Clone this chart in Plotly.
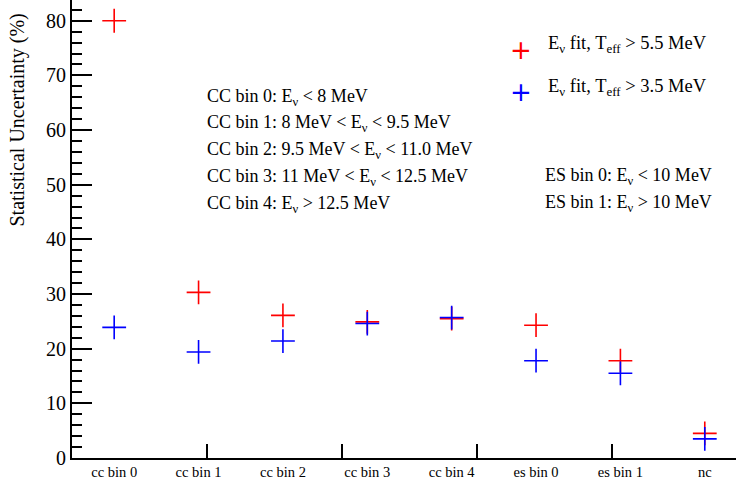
import plotly.graph_objects as go

categories = ["cc bin 0", "cc bin 1", "cc bin 2", "cc bin 3", "cc bin 4", "es bin 0", "es bin 1", "nc"]
unc_55 = [80.0, 30.3, 26.1, 24.9, 25.5, 24.3, 17.8, 4.5]
unc_35 = [23.9, 19.4, 21.4, 24.6, 25.7, 17.8, 15.5, 3.5]
legend_labels = ["E<sub>ν</sub> fit, T<sub>eff</sub> > 5.5 MeV", "E<sub>ν</sub> fit, T<sub>eff</sub> > 3.5 MeV"]
cc_notes = ["CC bin 0: E<sub>ν</sub> < 8 MeV",
            "CC bin 1: 8 MeV < E<sub>ν</sub> < 9.5 MeV",
            "CC bin 2: 9.5 MeV < E<sub>ν</sub> < 11.0 MeV",
            "CC bin 3: 11 MeV < E<sub>ν</sub> < 12.5 MeV",
            "CC bin 4: E<sub>ν</sub> > 12.5 MeV"]
es_notes = ["ES bin 0: E<sub>ν</sub> < 10 MeV", "ES bin 1: E<sub>ν</sub> > 10 MeV"]
y_title = "Statistical Uncertainty (%)"
y_ticks = [0, 10, 20, 30, 40, 50, 60, 70, 80]

FONT = "'Liberation Serif', 'Times New Roman', 'DejaVu Serif', serif"
W, H = 736, 482
L, B = 72, 24
PW, PH = W - L, H - B
XR = [-0.5, 7.37]
YR = [0, 83.8]

xpos = list(range(len(categories)))

fig = go.Figure()
for vals, col in [(unc_55, "#ff0000"), (unc_35, "#0000ff")]:
    fig.add_trace(go.Scatter(
        x=xpos, y=vals, mode="markers", showlegend=False,
        marker=dict(symbol="cross-thin", size=17, color=col,
                    line=dict(color=col, width=1.6)),
        cliponaxis=False))

# invisible traces so the tick-only overlay axes get drawn
fig.add_trace(go.Scatter(x=[XR[0]], y=[0], xaxis="x2", yaxis="y", mode="markers",
                         marker=dict(opacity=0), showlegend=False, hoverinfo="skip"))
fig.add_trace(go.Scatter(x=[XR[0]], y=[0], xaxis="x", yaxis="y2", mode="markers",
                         marker=dict(opacity=0), showlegend=False, hoverinfo="skip"))

fig.update_layout(
    width=W, height=H,
    margin=dict(l=L, r=0, t=0, b=B, autoexpand=False),
    plot_bgcolor="white", paper_bgcolor="white",
    font=dict(family=FONT, color="black"),
    xaxis=dict(range=XR, tickmode="array", tickvals=xpos, ticktext=categories,
               ticks="", showgrid=False, zeroline=False, showline=True,
               linecolor="black", linewidth=2, tickfont=dict(size=14.5, family=FONT)),
    xaxis2=dict(overlaying="x", anchor="y", range=XR, side="bottom", tickmode="array",
                tickvals=[1.1, 2.7, 4.3, 5.9], ticks="inside", ticklen=14,
                tickwidth=1.5, tickcolor="black", showticklabels=False,
                showgrid=False, zeroline=False, showline=False),
    yaxis=dict(range=YR, tickmode="array", tickvals=y_ticks, ticks="",
               showgrid=False, zeroline=False, showline=True, linecolor="black",
               linewidth=2, tickfont=dict(size=20, family=FONT)),
    yaxis2=dict(overlaying="y", anchor="x", side="left", range=YR, tickmode="array",
                tickvals=y_ticks, ticks="inside", ticklen=20, tickwidth=1.5,
                tickcolor="black", showticklabels=False, showgrid=False,
                zeroline=False, showline=False,
                minor=dict(dtick=2, ticks="inside", ticklen=10, tickwidth=1.5,
                           tickcolor="black", showgrid=False)),
)

def px_x(p):
    return (p - L) / PW

def px_y(p):
    return (PH - p) / PH

ann = []
ann.append(dict(text=y_title, xref="paper", yref="paper", x=px_x(17), y=px_y(229),
                xanchor="center", yanchor="bottom", textangle=-90, showarrow=False,
                font=dict(size=20, family=FONT)))
for i, t in enumerate(cc_notes):
    ann.append(dict(text=t, xref="paper", yref="paper", x=px_x(205), y=px_y(97 + 26.8 * i),
                    xanchor="left", yanchor="middle", showarrow=False,
                    font=dict(size=18, family=FONT)))
for i, t in enumerate(es_notes):
    ann.append(dict(text=t, xref="paper", yref="paper", x=px_x(543), y=px_y(177 + 26.8 * i),
                    xanchor="left", yanchor="middle", showarrow=False,
                    font=dict(size=18, family=FONT)))
for i, (t, col) in enumerate(zip(legend_labels, ["#ff0000", "#0000ff"])):
    yc = 45 + 42 * i
    ann.append(dict(text=t, xref="paper", yref="paper", x=px_x(546), y=px_y(yc),
                    xanchor="left", yanchor="middle", showarrow=False,
                    font=dict(size=18.5, family=FONT)))
    ann.append(dict(text="+", xref="paper", yref="paper", x=px_x(521), y=px_y(yc + 5),
                    xanchor="center", yanchor="middle", showarrow=False,
                    font=dict(size=26, family="DejaVu Sans", color=col)))
fig.update_layout(annotations=ann)

fig.write_html("out.html", config={"displayModeBar": False},
               post_script="document.body.style.margin='0';document.body.style.overflow='hidden';")
